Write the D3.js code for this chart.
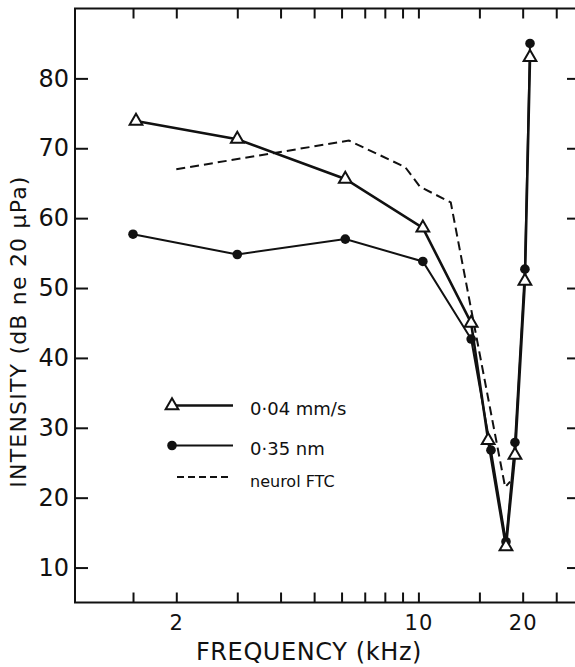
<!DOCTYPE html>
<html>
<head>
<meta charset="utf-8">
<script src="https://cdn.jsdelivr.net/npm/d3@7"></script>
<style>
  body { margin: 0; background: #fff; }
  text { font-family: "DejaVu Sans", sans-serif; fill: #111; }
</style>
</head>
<body>
<div id="my_dataviz"></div>
<script>
// values
const freqVel = [1.53, 3, 6.15, 10.3, 14.2, 15.9, 17.9, 19.0, 20.3, 21];
const velocity = [73.9, 71.3, 65.6, 58.6, 45.0, 28.2, 13.0, 26.1, 51.0, 83];   // 0.04 mm/s
const freqDisp = [1.5, 3, 6.15, 10.3, 14.2, 16.2, 17.9, 19.0, 20.3, 21];
const displacement = [57.7, 54.8, 57.0, 53.8, 42.7, 26.8, 13.7, 27.9, 52.7, 85]; // 0.35 nm
const freqFtc = [2, 6.3, 9.16, 10.1, 12.4, 17.8, 18.4];
const neuralFtc = [67, 71.1, 67.3, 64.5, 62.25, 21.5, 22.3];

const xTicks = [1.5, 2, 3, 4, 5, 6, 7, 8, 9, 10, 15, 20, 25];
const xLabels = [2, 10, 20];
const yTicks = [10, 20, 30, 40, 50, 60, 70, 80];
const legendLabels = ["0·04 mm/s", "0·35 nm", "neurol FTC"];

const margin = {top: 8.5, right: 0, bottom: 64.5, left: 75},
    width = 502,
    height = 594;

const x = d3.scaleLog()
    .domain([1.02, 28.7])
    .range([0, width]);

const y = d3.scaleLinear()
    .domain([5, 90])
    .range([height, 0]);

const svg = d3.select('#my_dataviz').append("svg")
    .attr("width", 575)
    .attr("height", 667)
    .append("g")
    .attr("transform", "translate(" + margin.left + "," + margin.top + ")");

// frame
svg.append("rect")
    .attr("width", width)
    .attr("height", height)
    .attr("fill", "none")
    .attr("stroke", "#111")
    .attr("stroke-width", 2);

// ticks all pointing inwards
const fmtX = d => xLabels.includes(d) ? d : "";

const gBottom = svg.append("g")
    .attr("transform", "translate(0," + height + ")")
    .call(d3.axisBottom(x).tickValues(xTicks).tickFormat(fmtX).tickSize(-10).tickPadding(13));
gBottom.selectAll("text").style("font-size", "21px").attr("letter-spacing", "1");

svg.append("g")
    .call(d3.axisTop(x).tickValues(xTicks).tickFormat("").tickSize(-10));

const gLeft = svg.append("g")
    .call(d3.axisLeft(y).tickValues(yTicks).tickSize(-13).tickPadding(6));
gLeft.selectAll("text").style("font-size", "24px");

svg.append("g")
    .attr("transform", "translate(" + width + ",0)")
    .call(d3.axisRight(y).tickValues(yTicks).tickFormat("").tickSize(-10));

svg.selectAll(".domain").remove();
svg.selectAll(".tick line").attr("stroke", "#111").attr("stroke-width", 2);

// axis titles
svg.append("text")
    .attr("x", 234)
    .attr("y", 651)
    .attr("text-anchor", "middle")
    .attr("letter-spacing", "0.6")
    .style("font-size", "24px")
    .text("FREQUENCY  (kHz)");

svg.append("text")
    .attr("transform", "translate(-49," + 323 + ") rotate(-90)")
    .attr("text-anchor", "middle")
    .attr("letter-spacing", "1.2")
    .style("font-size", "22px")
    .text("INTENSITY  (dB ne 20 μPa)");

// lines
const vel = freqVel.map((f, i) => ({f: f, v: velocity[i]}));
const disp = freqDisp.map((f, i) => ({f: f, v: displacement[i]}));
const ftc = freqFtc.map((f, i) => ({f: f, v: neuralFtc[i]}));

const line = d3.line()
    .x(d => x(d.f))
    .y(d => y(d.v));

svg.append("path")
    .datum(ftc)
    .attr("d", line)
    .attr("fill", "none")
    .attr("stroke", "#111")
    .attr("stroke-width", 2)
    .attr("stroke-dasharray", "9,5");

svg.append("path")
    .datum(disp)
    .attr("d", line)
    .attr("fill", "none")
    .attr("stroke", "#111")
    .attr("stroke-width", 2);

svg.append("path")
    .datum(vel)
    .attr("d", line)
    .attr("fill", "none")
    .attr("stroke", "#111")
    .attr("stroke-width", 2.6);

const tri = d3.symbol().type(d3.symbolTriangle).size(70);

svg.selectAll(".dot")
    .data(disp)
    .enter().append("circle")
    .attr("class", "dot")
    .attr("cx", d => x(d.f))
    .attr("cy", d => y(d.v))
    .attr("r", 4.8)
    .attr("fill", "#111");

svg.selectAll(".tri")
    .data(vel)
    .enter().append("path")
    .attr("class", "tri")
    .attr("d", tri)
    .attr("transform", d => "translate(" + x(d.f) + "," + y(d.v) + ")")
    .attr("fill", "#fff")
    .attr("stroke", "#111")
    .attr("stroke-width", 2);

// legend
const lg = svg.append("g").attr("transform", "translate(97,397)");

lg.append("line").attr("x1", 0).attr("x2", 61).attr("y1", 0).attr("y2", 0)
    .attr("stroke", "#111").attr("stroke-width", 2.4);
lg.append("path").attr("d", tri).attr("transform", "translate(0,0)")
    .attr("fill", "#fff").attr("stroke", "#111").attr("stroke-width", 2);

lg.append("line").attr("x1", 0).attr("x2", 61).attr("y1", 40).attr("y2", 40)
    .attr("stroke", "#111").attr("stroke-width", 2);
lg.append("circle").attr("cx", 0).attr("cy", 40).attr("r", 4.8).attr("fill", "#111");

lg.append("line").attr("x1", 5).attr("x2", 58).attr("y1", 71.5).attr("y2", 71.5)
    .attr("stroke", "#111").attr("stroke-width", 2).attr("stroke-dasharray", "7,4");

lg.selectAll(".lab")
    .data(legendLabels)
    .enter().append("text")
    .attr("class", "lab")
    .attr("x", 78)
    .attr("y", (d, i) => [4, 44, 76][i])
    .attr("dy", "0.32em")
    .style("font-size", (d, i) => i < 2 ? "18px" : "16px")
    .text(d => d);
</script>
</body>
</html>
